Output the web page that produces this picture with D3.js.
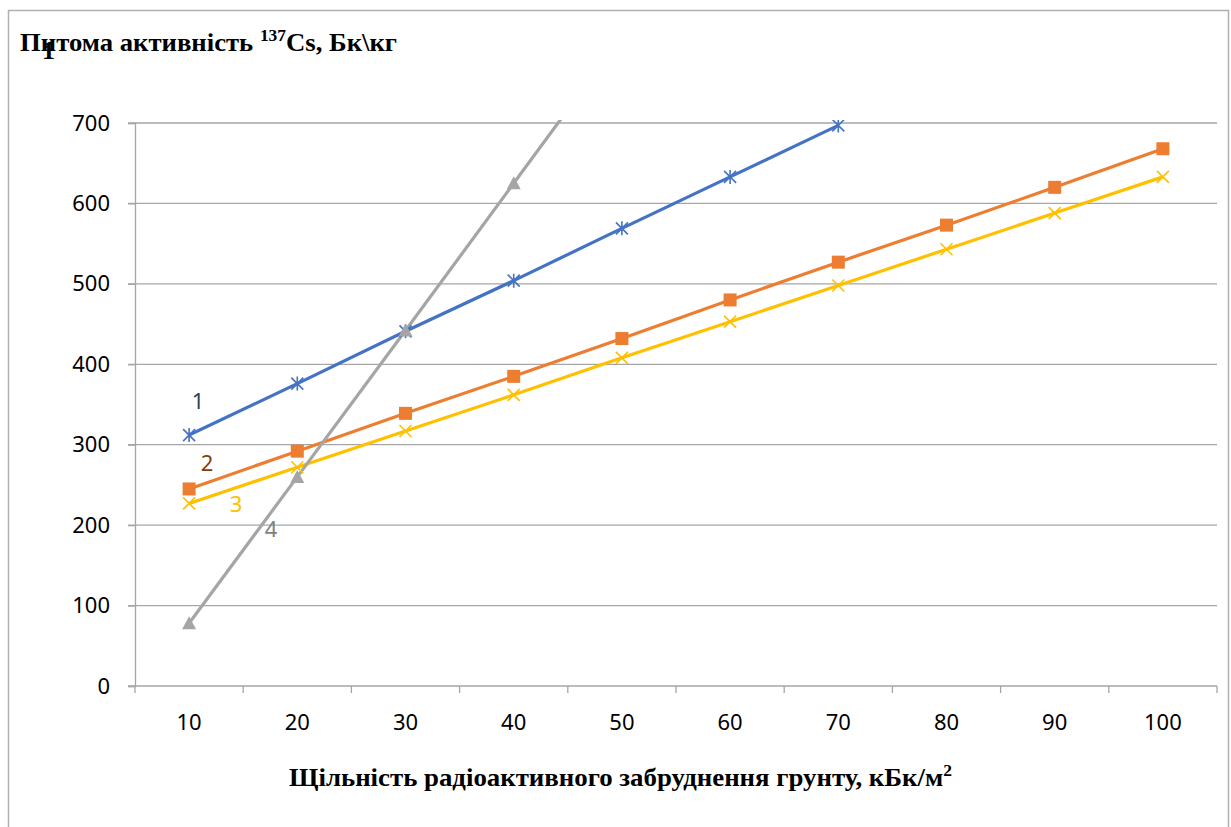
<!DOCTYPE html>
<html>
<head>
<meta charset="utf-8">
<script src="https://cdn.jsdelivr.net/npm/d3@7"></script>
<style>
  html, body { margin: 0; padding: 0; background: #fff; }
  svg { display: block; }
</style>
</head>
<body>
<svg id="chart" width="1231" height="827"></svg>
<script>
// Categories: soil contamination density, kBq/m²
const categories = ["10", "20", "30", "40", "50", "60", "70", "80", "90", "100"];
// Specific activity of 137Cs, Bq/kg, per curve
const series1 = [312, 376, 441, 504, 569, 633, 697];
const series2 = [245, 292, 339, 385, 432, 480, 527, 573, 620, 668];
const series3 = [227, 272, 317, 362, 408, 453, 498, 543, 588, 633];
const series4 = [78, 260, 442, 625, 808];
const yTicks = [0, 100, 200, 300, 400, 500, 600, 700];
const curveLabels = ["1", "2", "3", "4"];

const svg = d3.select("#chart");
const plot = { left: 135, right: 1217, top: 123, bottom: 686 };

// outer frame
svg.append("rect")
  .attr("x", 8.5).attr("y", 10.5)
  .attr("width", 1220).attr("height", 830)
  .attr("fill", "none").attr("stroke", "#b0b0b0").attr("stroke-width", 1.5);

const x = d3.scaleBand().domain(categories).range([plot.left, plot.right]).padding(0);
const y = d3.scaleLinear().domain([0, 700]).range([plot.bottom, plot.top]);

const gridColor = "#a6a6a6";
const tickFont = "'Noto Sans', sans-serif";

// horizontal gridlines
svg.append("g").selectAll("line").data(yTicks.filter(d => d > 0)).join("line")
  .attr("x1", plot.left - 7).attr("x2", plot.right)
  .attr("y1", d => y(d)).attr("y2", d => y(d))
  .attr("stroke", gridColor).attr("stroke-width", 1.3);

// y axis
const yAxis = svg.append("g")
  .attr("transform", `translate(${plot.left},0)`)
  .call(d3.axisLeft(y).tickValues(yTicks).tickSize(7).tickPadding(18));
yAxis.select(".domain").attr("stroke", gridColor).attr("stroke-width", 1.3);
yAxis.selectAll(".tick line").attr("stroke", gridColor).attr("stroke-width", 1.3);
yAxis.selectAll(".tick text")
  .attr("font-family", tickFont).attr("font-size", 22).attr("fill", "#000");

// x axis: baseline, boundary ticks, centred labels
const xAxis = svg.append("g").attr("transform", `translate(0,${plot.bottom})`);
xAxis.append("line")
  .attr("x1", plot.left - 7).attr("x2", plot.right)
  .attr("stroke", gridColor).attr("stroke-width", 1.3);
const bounds = categories.map(c => x(c)).concat([x(categories[categories.length - 1]) + x.bandwidth()]);
xAxis.selectAll("line.tk").data(bounds).join("line").attr("class", "tk")
  .attr("x1", d => d).attr("x2", d => d).attr("y1", 0).attr("y2", 7)
  .attr("stroke", gridColor).attr("stroke-width", 1.3);
xAxis.selectAll("text").data(categories).join("text")
  .attr("x", d => x(d) + x.bandwidth() / 2).attr("y", 44)
  .attr("text-anchor", "middle")
  .attr("font-family", tickFont).attr("font-size", 22).attr("fill", "#000")
  .text(d => d);

// clip for lines that leave the value range
svg.append("defs").append("clipPath").attr("id", "plotclip")
  .append("rect").attr("x", plot.left - 20).attr("y", plot.top - 3)
  .attr("width", plot.right - plot.left + 40).attr("height", plot.bottom - plot.top + 30);

const cx = (i) => x(categories[i]) + x.bandwidth() / 2;
const line = d3.line().x((d, i) => cx(i)).y(d => y(d));

const defs = [
  { data: series1, color: "#4472C4", marker: "star" },
  { data: series2, color: "#ED7D31", marker: "square" },
  { data: series3, color: "#FFC000", marker: "x" },
  { data: series4, color: "#A5A5A5", marker: "triangle" }
];

const g = svg.append("g").attr("clip-path", "url(#plotclip)");

defs.forEach(s => {
  g.append("path").datum(s.data)
    .attr("d", line).attr("fill", "none")
    .attr("stroke", s.color).attr("stroke-width", 3.2).attr("stroke-linejoin", "round");
});

defs.forEach(s => {
  const pts = s.data.map((v, i) => [cx(i), y(v)]).filter(p => p[1] >= plot.top - 2);
  const mg = g.append("g");
  pts.forEach(([px, py]) => {
    if (s.marker === "square") {
      mg.append("rect").attr("x", px - 6.5).attr("y", py - 6.5).attr("width", 13).attr("height", 13)
        .attr("fill", s.color);
    } else if (s.marker === "x") {
      mg.append("path").attr("d", `M${px-6},${py-6}L${px+6},${py+6}M${px-6},${py+6}L${px+6},${py-6}`)
        .attr("stroke", s.color).attr("stroke-width", 1.6).attr("fill", "none");
    } else if (s.marker === "star") {
      mg.append("path").attr("d", `M${px-6},${py-6}L${px+6},${py+6}M${px-6},${py+6}L${px+6},${py-6}M${px},${py-7}L${px},${py+7}`)
        .attr("stroke", s.color).attr("stroke-width", 1.6).attr("fill", "none");
    } else if (s.marker === "triangle") {
      mg.append("path").attr("d", `M${px},${py-7}L${px+7},${py+6}L${px-7},${py+6}Z`)
        .attr("fill", s.color);
    }
  });
});

// curve numbers
const labelPos = [
  { t: curveLabels[0], cat: 0, v: 355, dx: 9, color: "#333F50" },
  { t: curveLabels[1], cat: 0, v: 278, dx: 18, color: "#843C0C" },
  { t: curveLabels[2], cat: 0, v: 228, dx: 47, color: "#FFC000" },
  { t: curveLabels[3], cat: 0, v: 197, dx: 82, color: "#7F7F7F" }
];
svg.append("g").selectAll("text").data(labelPos).join("text")
  .attr("x", d => cx(d.cat) + d.dx).attr("y", d => y(d.v))
  .attr("text-anchor", "middle").attr("dominant-baseline", "central")
  .attr("font-family", "'Noto Sans', sans-serif").attr("font-size", 22)
  .attr("fill", d => d.color).text(d => d.t);

// y title
const yt = svg.append("text").attr("x", 20).attr("y", 51)
  .attr("font-family", "'Liberation Serif', serif").attr("font-weight", "bold")
  .attr("font-size", 26).attr("fill", "#000")
  .attr("textLength", 377).attr("lengthAdjust", "spacingAndGlyphs");
yt.append("tspan").text("Питома активність ");
yt.append("tspan").attr("font-size", 17).attr("dy", -10).text("137");
yt.append("tspan").attr("dy", 10).text("Cs, Бк\\кг");

// stray figure overlapping the title
svg.append("text").attr("x", 42).attr("y", 59)
  .attr("font-family", "'Liberation Serif', serif").attr("font-weight", "bold")
  .attr("font-size", 26).attr("fill", "#000").text("1");

// x title
const xt = svg.append("text").attr("x", 289).attr("y", 786)
  .attr("font-family", "'Liberation Serif', serif").attr("font-weight", "bold")
  .attr("font-size", 26).attr("fill", "#000")
  .attr("textLength", 663).attr("lengthAdjust", "spacingAndGlyphs");
xt.append("tspan").text("Щільність радіоактивного забруднення грунту, кБк/м");
xt.append("tspan").attr("font-size", 17).attr("dy", -10).text("2");
</script>
</body>
</html>
